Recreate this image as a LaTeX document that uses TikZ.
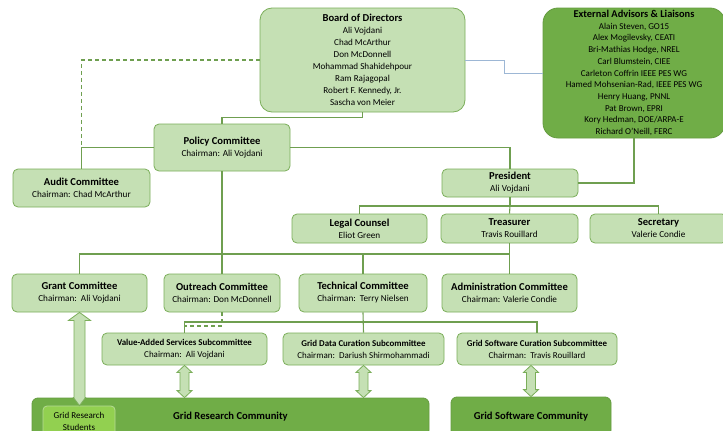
\documentclass[tikz,border=0pt]{standalone}
\usepackage{fontspec}
\setmainfont{Carlito}
\usetikzlibrary{calc}
\definecolor{lg}{HTML}{C5E0B4}
\definecolor{bd}{HTML}{7BAE5A}
\definecolor{ln}{HTML}{6F9F50}
\definecolor{dg}{HTML}{70AD47}
\definecolor{sg}{HTML}{92D050}
\definecolor{faint}{HTML}{9DB7D5}
\newcommand\ttl{\bfseries\fontsize{10.6}{12}\selectfont}
\newcommand\sttl{\bfseries\fontsize{8.9}{12}\selectfont}
\newcommand\fatarr[6]{%
\path[arr] let \p1=#1, \p2=#2 in
 (\x1,\y1) -- ({\x1+#4},{\y1-#5}) -- ({\x1+#3},{\y1-#5}) -- ({\x1+#3},{\y2+#5})
 -- ({\x1+#6},{\y2+#5}) -- (\x1,\y2) -- ({\x1-#6},{\y2+#5}) -- ({\x1-#3},{\y2+#5})
 -- ({\x1-#3},{\y1-#5}) -- ({\x1-#4},{\y1-#5}) -- cycle;}
\begin{document}
\begin{tikzpicture}[x=1pt,y=-1pt,
  box/.style={draw=bd, fill=lg, rounded corners=5pt, align=center, inner sep=0pt,
    line width=0.8pt, font=\fontsize{9.2}{12}\selectfont},
  dbox/.style={draw=dg!90!black, fill=dg, rounded corners=6pt, align=center, inner sep=0pt,
    line width=0.8pt},
  conn/.style={draw=ln, line width=1.1pt},
  dconn/.style={conn, dash pattern=on 4pt off 3pt},
  arr/.style={draw=bd, fill=lg, line width=0.8pt, line join=miter}]
\clip (0,0) rectangle (723,431);
\fill[white] (0,0) rectangle (723,431);

% top
\node[box, rounded corners=12pt, minimum width=205pt, minimum height=104pt,
  font=\fontsize{9.1}{12}\selectfont] (board) at (362.5,60)
  {{\ttl Board of Directors}\\Ali Vojdani\\Chad McArthur\\Don McDonnell\\Mohammad Shahidehpour\\Ram Rajagopal\\Robert F. Kennedy, Jr.\\Sascha von Meier};
\node[dbox, rounded corners=15pt, minimum width=182pt, minimum height=130pt,
  font=\fontsize{9}{11.7}\selectfont] (ext) at (634,73)
  {{\bfseries\fontsize{10.4}{11.7}\selectfont External Advisors \& Liaisons}\\Alain Steven, GO15\\Alex Mogilevsky, CEATI\\Bri-Mathias Hodge, NREL\\Carl Blumstein, CIEE\\Carleton Coffrin IEEE PES WG\\Hamed Mohsenian-Rad, IEEE PES WG\\Henry Huang, PNNL\\Pat Brown, EPRI\\Kory Hedman, DOE/ARPA-E\\Richard O'Neill, FERC};

\node[box, minimum width=136pt, minimum height=47pt] (policy) at (222,147.5)
  {{\ttl Policy Committee}\\Chairman: Ali Vojdani};
\node[box, minimum width=137pt, minimum height=38pt] (audit) at (81.5,188)
  {{\ttl Audit Committee}\\Chairman: Chad McArthur};
\node[box, minimum width=136pt, minimum height=28pt] (pres) at (510,183)
  {{\ttl President}\\Ali Vojdani};
\node[box, minimum width=135pt, minimum height=29pt] (legal) at (359.5,228.5)
  {{\ttl Legal Counsel}\\Eliot Green};
\node[box, minimum width=137pt, minimum height=29pt] (treas) at (509.5,228.5)
  {{\ttl Treasurer}\\Travis Rouillard};
\node[box, minimum width=137pt, minimum height=29pt] (sec) at (658.5,228.5)
  {{\ttl Secretary}\\Valerie Condie};

% committees
\node[box, minimum width=135pt, minimum height=38pt] (grant) at (79.5,293)
  {{\ttl Grant Committee}\\Chairman:\ \ Ali Vojdani};
\node[box, minimum width=116pt, minimum height=38pt] (outr) at (222,293)
  {{\ttl Outreach Committee}\\Chairman: Don McDonnell};
\node[box, minimum width=128pt, minimum height=38pt] (tech) at (363,293)
  {{\ttl Technical Committee}\\Chairman:\ \ Terry Nielsen};
\node[box, minimum width=135pt, minimum height=38pt] (admin) at (509.5,293)
  {{\ttl Administration Committee}\\Chairman: Valerie Condie};

% subcommittees
\node[box, minimum width=165pt, minimum height=32pt, font=\fontsize{9}{12}\selectfont] (vas) at (184.5,349)
  {{\sttl Value-Added Services Subcommittee}\\Chairman:\ \ Ali Vojdani};
\node[box, minimum width=161pt, minimum height=32pt, font=\fontsize{9}{12}\selectfont] (gdc) at (363.5,349)
  {{\sttl Grid Data Curation Subcommittee}\\Chairman:\ \ Dariush Shirmohammadi};
\node[box, minimum width=160pt, minimum height=32pt, font=\fontsize{9}{12}\selectfont] (gsc) at (537,349)
  {{\sttl Grid Software Curation Subcommittee}\\Chairman:\ \ Travis Rouillard};

% communities
\node[dbox, minimum width=397pt, minimum height=38pt, font=\bfseries\fontsize{10.6}{12}\selectfont]
  (grc) at (230.5,417) {Grid Research Community};
\node[dbox, minimum width=160pt, minimum height=39pt, font=\bfseries\fontsize{10.6}{12}\selectfont]
  (gswc) at (531,416.5) {Grid Software Community};
\node[draw=lg!70!sg, fill=sg, rounded corners=4pt, line width=0.8pt, inner sep=0pt,
  minimum width=72pt, minimum height=30pt, align=center, font=\fontsize{9}{12}\selectfont]
  (stud) at (79,421) {Grid Research\\Students};

% connectors
\draw[conn] (board.south) -- ++(0,5) -| (policy.north);
\draw[dconn] (board.west) -| (audit.north |- policy.west);
\draw[conn] (audit.north) |- (policy.west);
\draw[conn] (policy.east) -| (pres.north);
\draw[conn] (ext.south) |- (pres.east);
\draw[draw=faint, line width=0.6pt] (board.east) -- (504,60) |- (ext.west);
\coordinate (pbus) at (510,206);
\draw[conn] (pres.south) -- (pbus);
\draw[conn] (legal.north) |- (pbus) -| (sec.north);
\draw[conn] (treas.north) -- (pbus);
\coordinate (cbus) at (0,254);
\draw[conn] (policy.south) -- (outr.north);
\draw[conn] (treas.south) -- (admin.north);
\draw[conn] (grant.north) |- (admin.north |- cbus);
\draw[conn] (tech.north) -- (tech.north |- cbus);
\coordinate (sbus) at (0,322);
\draw[conn] (tech.south) -- (gdc.north);
\draw[conn] (vas.north) |- (gsc.north |- sbus) -- (gsc.north);
\draw[dconn] (outr.south) |- (vas.north |- 0,326);

% fat arrows
\fatarr{(grant.south)}{(stud.north)}{5.5pt}{11pt}{8pt}{6pt}
\fatarr{(vas.south)}{(vas.south |- grc.north)}{4.5pt}{7.5pt}{7pt}{7.5pt}
\fatarr{(gdc.south)}{(gdc.south |- grc.north)}{4.5pt}{7.5pt}{7pt}{7.5pt}
\fatarr{(gswc.north |- gsc.south)}{(gswc.north)}{4.5pt}{7.5pt}{7pt}{7.5pt}
\end{tikzpicture}
\end{document}
